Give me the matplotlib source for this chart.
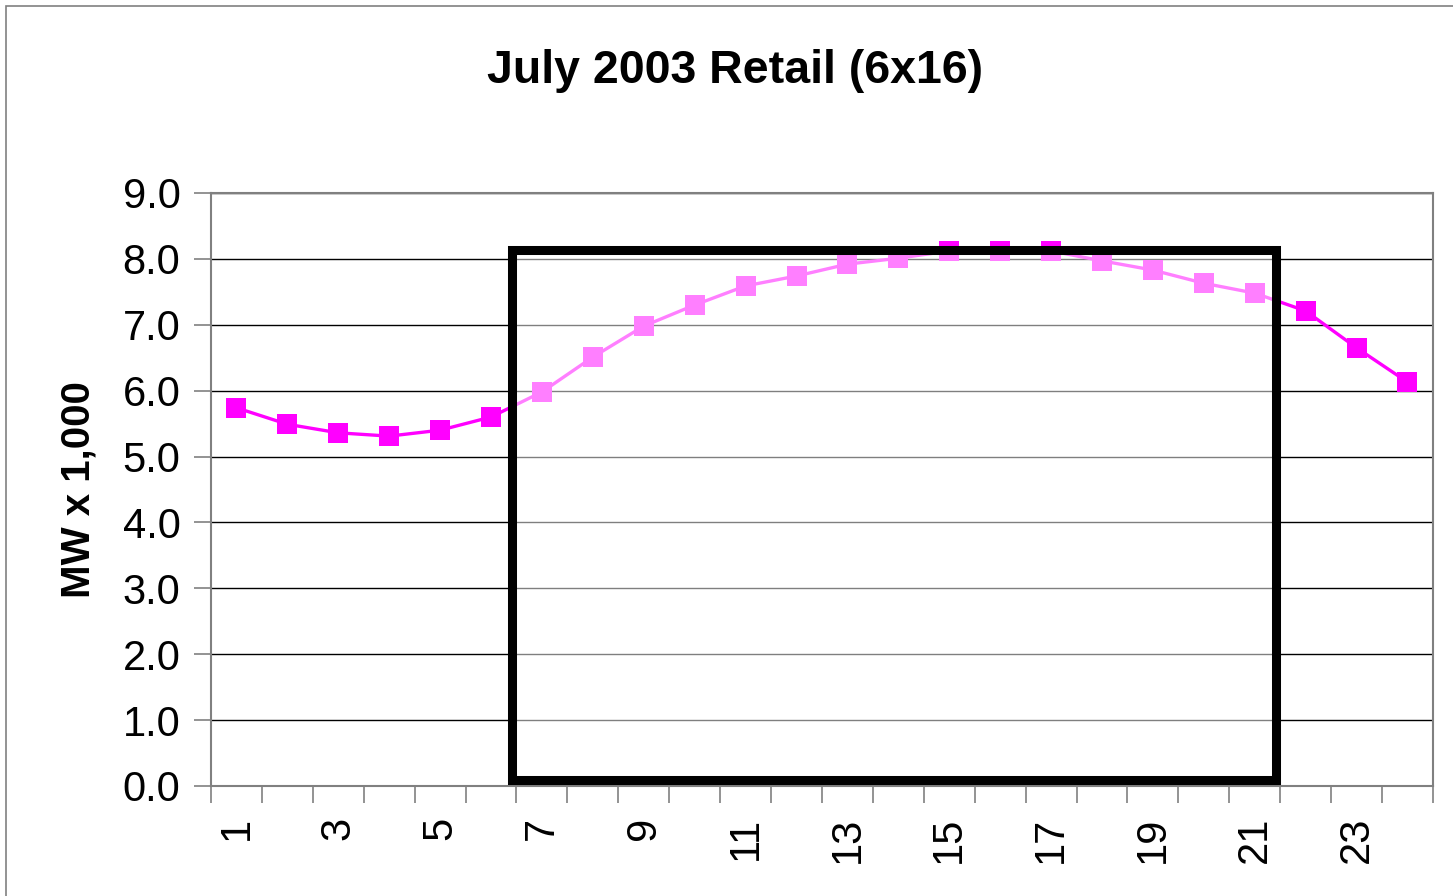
import matplotlib
import matplotlib.pyplot as plt
from matplotlib.patches import Rectangle

matplotlib.use("Agg")

# データ（時間帯別の負荷, MW x 1,000）
hours = list(range(1, 25))
load = [5.74, 5.49, 5.36, 5.31, 5.40, 5.60, 5.98, 6.51, 6.98, 7.30, 7.59, 7.74,
        7.92, 8.01, 8.12, 8.12, 8.12, 7.97, 7.83, 7.63, 7.48, 7.21, 6.65, 6.13]
tick_hours = list(range(1, 25, 2))
y_ticks = [0.0, 1.0, 2.0, 3.0, 4.0, 5.0, 6.0, 7.0, 8.0, 9.0]

# 6x16 ピーク時間帯の枠
box_x0, box_x1 = 6.42, 21.41
box_y0, box_y1 = 0.09, 8.13

plt.rcParams["font.family"] = ["Liberation Sans", "DejaVu Sans"]
fig = plt.figure(figsize=(14.53, 8.96), dpi=100)
ax = fig.add_axes([0.1452, 0.1228, 0.9862 - 0.1452, 0.7846 - 0.1228])

# 外枠
fig.patches.append(Rectangle((6 / 1453, -0.1), 1.2, 1 - 6 / 896 + 0.1,
                             transform=fig.transFigure, fill=False,
                             edgecolor="#808080", linewidth=1.2))

ax.plot(hours, load, color="#FF00FF", linewidth=2.4, marker="s",
        markersize=14, markeredgewidth=0, zorder=3)

ax.add_patch(Rectangle((box_x0, box_y0), box_x1 - box_x0, box_y1 - box_y0,
                       facecolor=(1, 1, 1, 0.5), edgecolor="black",
                       linewidth=6.5, zorder=4))

ax.set_xlim(0.5, 24.5)
ax.set_ylim(0, 9)
ax.set_yticks(y_ticks)
ax.set_yticklabels([f"{v:.1f}" for v in y_ticks], fontsize=30)
ax.set_xticks([h + 0.5 for h in range(0, 25)], minor=False)
ax.set_xticklabels([])
ax.set_xticks(tick_hours, minor=True)
ax.set_xticklabels([str(h) for h in tick_hours], minor=True, rotation=90,
                   fontsize=30)
ax.tick_params(axis="x", which="major", length=12, width=1.2, color="#808080",
               direction="out")
ax.tick_params(axis="x", which="minor", length=0, pad=22)
ax.tick_params(axis="y", length=12, width=1.2, color="#808080", pad=10)

ax.grid(True, axis="y", color="black", linewidth=1.0, zorder=1)
ax.set_axisbelow(True)
for s in ax.spines.values():
    s.set_color("#808080")
    s.set_linewidth(1.5)

ax.set_ylabel("MW x 1,000", fontsize=29, fontweight="bold", labelpad=18)
fig.suptitle("July 2003 Retail (6x16)", fontsize=33.5, fontweight="bold",
             x=0.506, y=0.921, va="center")

fig.savefig("out.png", dpi=100)
plt.close(fig)
